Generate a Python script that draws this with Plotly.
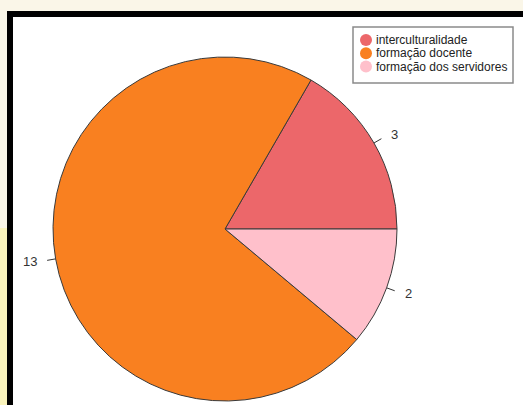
import math
import plotly.graph_objects as go

labels = ["interculturalidade", "formação docente", "formação dos servidores"]
values = [3, 13, 2]
colors = ["#EC676A", "#F98020", "#FFC0CB"]

W, H = 523, 405
cx, cy, r = 225, 229, 172
total = sum(values)

fig = go.Figure()
fig.add_trace(go.Pie(
    labels=labels, values=values, sort=False, direction="counterclockwise",
    # first slice starts at 3 o'clock and runs counterclockwise (R default)
    rotation=90 - 360 * values[0] / total,
    textinfo="none", hoverinfo="label+value", showlegend=False,
    marker=dict(colors=colors, line=dict(color="#3a3a3a", width=1)),
    domain=dict(x=[(cx - r) / W, (cx + r) / W], y=[(H - cy - r) / H, (H - cy + r) / H]),
))


def px(x):
    return x / W


def py(y):
    return 1 - y / H


shapes = [
    dict(type="rect", xref="paper", yref="paper", x0=0, x1=px(8),
         y0=-0.01, y1=py(228), line=dict(width=0), fillcolor="#FAF4BC", layer="below"),
    dict(type="rect", xref="paper", yref="paper", x0=px(10), x1=px(W + 3),
         y0=-0.05, y1=py(14), line=dict(color="black", width=6),
         fillcolor="white", layer="below"),
]
annotations = []
cum = 0
for v in values:
    mid = 2 * math.pi * (cum + v / 2) / total
    cum += v
    c, s = math.cos(mid), math.sin(mid)

    def pt(k):
        return px(cx + k * r * c), py(cy - k * r * s)
    x0, y0 = pt(1.0)
    x1, y1 = pt(1.05)
    shapes.append(dict(type="line", xref="paper", yref="paper", x0=x0, y0=y0, x1=x1, y1=y1,
                       line=dict(color="#333333", width=1)))
    lx, ly = pt(1.1)
    annotations.append(dict(x=lx, y=ly, xref="paper", yref="paper", text=str(v), showarrow=False,
                            xanchor="left" if c > 0 else "right", yanchor="middle",
                            font=dict(size=13, color="#333333", family="Liberation Sans, Arial")))

# legend box (R style, round markers)
shapes.append(dict(type="rect", xref="paper", yref="paper", x0=px(353), x1=px(513),
                   y0=py(83), y1=py(27), line=dict(color="#8a8a8a", width=1.5),
                   fillcolor="white"))
for i, (lab, col) in enumerate(zip(labels, colors)):
    yc = 40 + 13.3 * i
    shapes.append(dict(type="circle", xref="paper", yref="paper",
                       x0=px(360), x1=px(372), y0=py(yc + 6), y1=py(yc - 6),
                       line=dict(width=0), fillcolor=col))
    annotations.append(dict(x=px(374), y=py(yc), xref="paper", yref="paper", text=lab,
                            showarrow=False, xanchor="left", yanchor="middle",
                            font=dict(size=12, color="#222222", family="Liberation Sans, Arial")))

fig.update_layout(
    width=W, height=H, margin=dict(l=0, r=0, t=0, b=0),
    paper_bgcolor="#FAF6E8", plot_bgcolor="rgba(0,0,0,0)",
    showlegend=False,
    shapes=shapes, annotations=annotations,
)

fig.write_html("out.html", config={"displayModeBar": False},
               post_script="document.body.style.margin='0';document.body.style.background='#FAF6E8';")
